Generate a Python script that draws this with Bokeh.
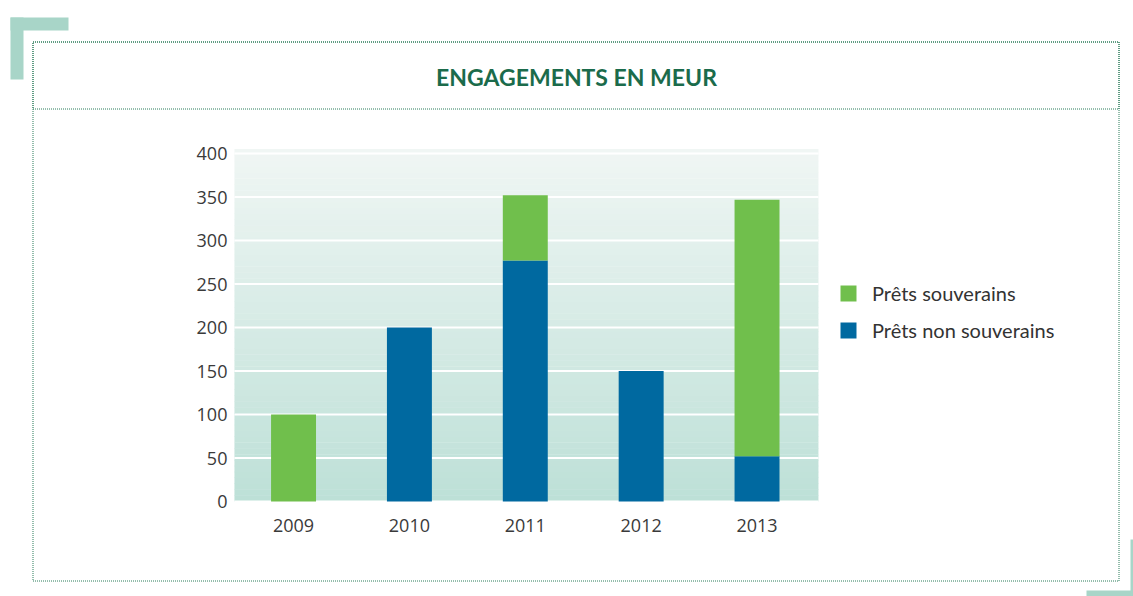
import numpy as np
from bokeh.plotting import figure
from bokeh.models import (Range1d, BoxAnnotation, Label, Legend, LegendItem,
                          ColumnDataSource, LinearAxis, FixedTicker)
from bokeh.embed import file_html
from bokeh.resources import INLINE

# ---- data ----
years = [2009, 2010, 2011, 2012, 2013]
prets_non_souverains = [0, 200, 277, 150, 52]
prets_souverains = [100, 0, 75, 0, 295]
y_ticks = [0, 50, 100, 150, 200, 250, 300, 350, 400]
title_text = "ENGAGEMENTS EN MEUR"
series_labels = ["Prêts souverains", "Prêts non souverains"]

GREEN = "#70bf4c"
BLUE = "#0069a0"
DARK_GREEN = "#1b6b4b"
DOT_GREEN = "#2a7d5a"
BRACKET = "#a8d5c8"
TEXT = "#3a3a3a"

W, H = 1133, 596
# plot area limits (in data units) of the shaded chart panel
AX_L, AX_R = 2008.49, 2013.53
AX_B, AX_T = 0, 404.6

p = figure(width=W, height=H, x_range=Range1d(2006.471, 2016.249),
           y_range=Range1d(-109.2, 575.9), x_axis_location=None, y_axis_location=None,
           output_backend="svg", toolbar_location=None, min_border=0)
p.outline_line_color = None
p.background_fill_color = "white"
p.border_fill_color = "white"
p.grid.visible = False

# ---- gradient background of plot panel ----
n = 60
edges = np.linspace(AX_B, AX_T, n + 1)
top_rgb = np.array([240, 246, 244])
bot_rgb = np.array([189, 224, 215])
cols = []
for i in range(n):
    t = (edges[i] + edges[i + 1]) / 2 / AX_T
    c = bot_rgb + (top_rgb - bot_rgb) * t
    cols.append("#%02x%02x%02x" % tuple(int(round(v)) for v in c))
bg = ColumnDataSource(dict(b=edges[:-1], t=edges[1:] + 0.5, c=cols))
p.quad(left=AX_L, right=AX_R, bottom="b", top="t", fill_color="c", line_color=None,
       source=bg, level="image")

# horizontal white grid lines at the y ticks
p.segment(x0=AX_L, x1=AX_R, y0=y_ticks, y1=y_ticks, line_color="white",
          line_width=2, level="underlay")

# ---- axes ----
yax = LinearAxis(fixed_location=AX_L, ticker=FixedTicker(ticks=y_ticks))
xax = LinearAxis(fixed_location=AX_B, ticker=FixedTicker(ticks=years))
for ax in (xax, yax):
    ax.axis_line_color = None
    ax.major_tick_line_color = None
    ax.minor_tick_line_color = None
    ax.major_label_text_font = "Open Sans"
    ax.major_label_text_font_size = "18px"
    ax.major_label_text_color = TEXT
yax.major_label_standoff = 1
xax.major_label_standoff = 11
p.add_layout(yax, "left")
p.add_layout(xax, "below")

# ---- bars ----
src = ColumnDataSource(dict(year=years, ns=prets_non_souverains, s=prets_souverains))
r_ns, r_s = p.vbar_stack(["ns", "s"], x="year", width=0.388, color=[BLUE, GREEN],
                         line_color=None, source=src)

legend = Legend(items=[LegendItem(label=series_labels[0], renderers=[r_s]),
                       LegendItem(label=series_labels[1], renderers=[r_ns])],
                location=(838, 254), padding=0, margin=0, spacing=13,
                glyph_width=20, glyph_height=20, label_height=20,
                label_standoff=14, border_line_color=None,
                background_fill_alpha=0,
                label_text_font="Lato", label_text_font_size="20px",
                label_text_color="#333333")
p.add_layout(legend, "center")

# ---- decorations ----
def box(l, t, r, b, **kw):
    return BoxAnnotation(left=l, right=r, top=t, bottom=b,
                         left_units="canvas", right_units="canvas",
                         top_units="canvas", bottom_units="canvas", **kw)

for (l, t, r, b) in [(10, 17, 68, 30), (10, 17, 23, 79),
                     (1086, 590, 1146, 603), (1130, 539, 1143, 603)]:
    p.add_layout(box(l, t, r, b, fill_color=BRACKET, fill_alpha=1, line_color=None,
                     level="overlay"))

for (l, t, r, b) in [(32.5, 41.5, 1118.5, 580.5), (32.5, 41.5, 1118.5, 108.5)]:
    p.add_layout(box(l, t, r, b, fill_alpha=0, line_color=DOT_GREEN, line_alpha=1,
                     line_width=1, line_dash="1 1", level="overlay"))

p.add_layout(Label(x=576, y=76, x_units="canvas", y_units="canvas", text=title_text,
                   text_align="center", text_baseline="middle", text_font="Lato",
                   text_font_style="bold", text_font_size="23px",
                   text_color=DARK_GREEN))

open("out.html", "w").write(file_html(p, INLINE))
